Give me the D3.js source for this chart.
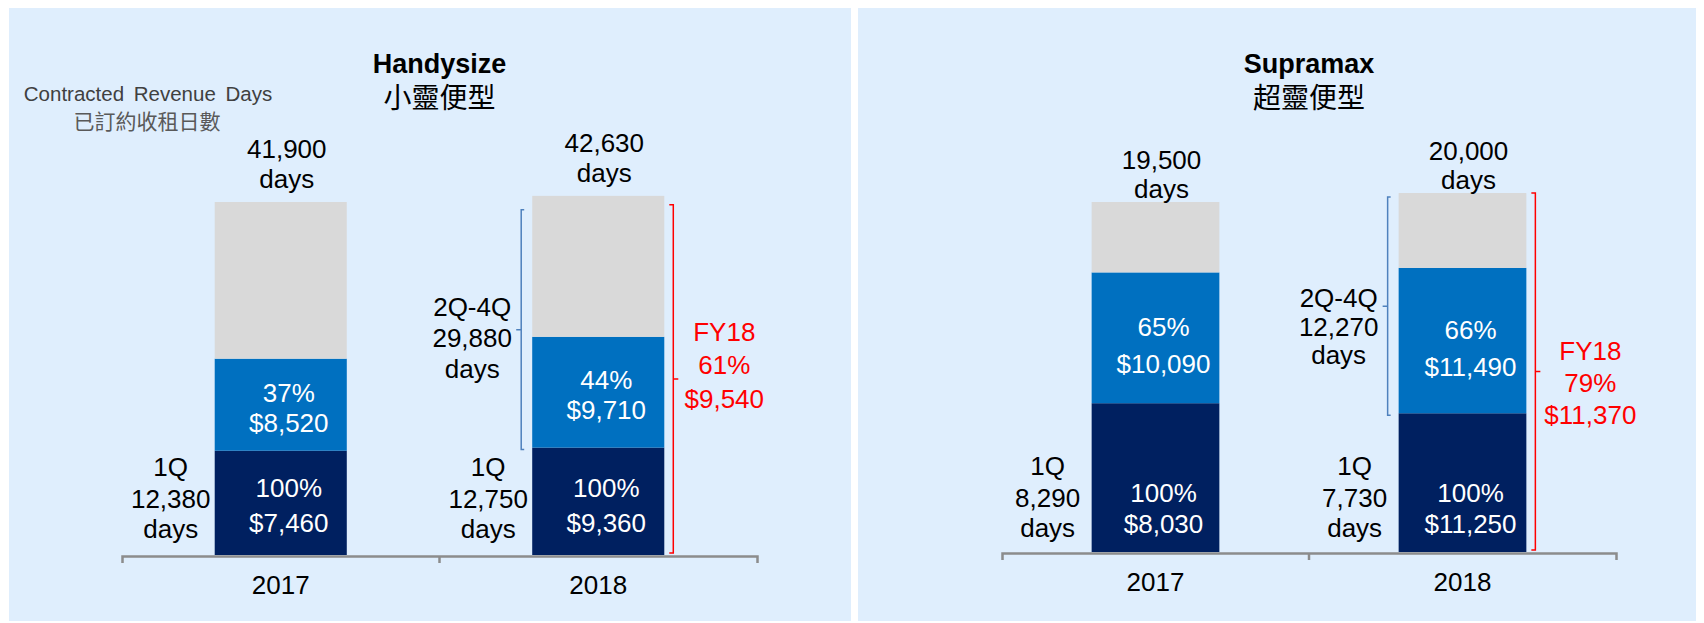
<!DOCTYPE html>
<html>
<head>
<meta charset="utf-8">
<script src="https://cdn.jsdelivr.net/npm/d3@7"></script>
<style>
  body { margin: 0; background: #fff; }
  svg text { font-family: "Liberation Sans", Arial, sans-serif; }
  .zh { font-family: "Noto Sans CJK TC", "Noto Sans CJK SC", sans-serif; }
</style>
</head>
<body>
<svg id="chart" width="1704" height="623"></svg>
<script>
var years = ["2017", "2018"];

// Handysize
var handyQ1Days = [12380, 12750];
var handyTotalDays = [41900, 42630];
var handyCoverPct = [37, 44];
var handyQ1Rate = [7460, 9360];
var handyRestRate = [8520, 9710];

// Supramax
var supraQ1Days = [8290, 7730];
var supraTotalDays = [19500, 20000];
var supraCoverPct = [65, 66];
var supraQ1Rate = [8030, 11250];
var supraRestRate = [10090, 11490];

// FY18 full year cover (Handysize, Supramax)
var fy18Pct = [61, 79];
var fy18Rate = [9540, 11370];

var navy = "#002060", blue = "#0070C0", grey = "#D9D9D9", red = "#FF0000";
var fmt = d3.format(",");

var panels = [
    { title: "Handysize", zh: "小靈便型", q1: handyQ1Days, total: handyTotalDays, pct: handyCoverPct,
      q1Rate: handyQ1Rate, restRate: handyRestRate, fyPct: fy18Pct[0], fyRate: fy18Rate[0],
      box: [9, 8, 842, 613], xr: [122, 757], yr: [555, 202],
      totalDy: [-44, -14], navyDy: [-58, -23], blueDy: [-3, 27], q1Dy: [-79, -47, -17],
      bInset: 14, rInset: 9, restDy: -14, restStep: 31, fyDx: 60, fyDy: -38, fyStep: 33.5 },
    { title: "Supramax", zh: "超靈便型", q1: supraQ1Days, total: supraTotalDays, pct: supraCoverPct,
      q1Rate: supraQ1Rate, restRate: supraRestRate, fyPct: fy18Pct[1], fyRate: fy18Rate[1],
      box: [858, 8, 838, 613], xr: [1002, 1616], yr: [552, 202],
      totalDy: [-33, -4], navyDy: [-50, -19], blueDy: [-2, 35], q1Dy: [-77, -45, -15],
      bInset: 4, rInset: 0, restDy: 1, restStep: 28.5, fyDx: 64, fyDy: -12, fyStep: 32 }
];

var svg = d3.select("#chart");

panels.forEach(function (p, pi) {
    var g = svg.append("g");

    g.append("rect")
        .attr("x", p.box[0]).attr("y", p.box[1])
        .attr("width", p.box[2]).attr("height", p.box[3])
        .attr("fill", "#DFEEFD");

    var x = d3.scaleBand().domain(years).range(p.xr)
        .paddingInner(0.584).paddingOuter(0.292);
    var y = d3.scaleLinear().domain([0, p.total[0]]).range(p.yr);

    var rows = years.map(function (yr, i) {
        var rest = p.total[i] - p.q1[i];
        var covered = rest * p.pct[i] / 100;
        return { year: yr, i: i, q1: p.q1[i], covered: covered, rest: rest, total: p.total[i] };
    });

    var stack = d3.stack().keys(["q1", "covered", "open"])
        .value(function (d, k) { return k === "open" ? d.total - d.q1 - d.covered : d[k]; })(rows);
    var colors = { q1: navy, covered: blue, open: grey };

    g.selectAll("g.layer").data(stack).join("g")
        .attr("class", "layer")
        .attr("fill", function (d) { return colors[d.key]; })
        .selectAll("rect").data(function (d) { return d; }).join("rect")
        .attr("x", function (d) { return x(d.data.year); })
        .attr("width", x.bandwidth())
        .attr("y", function (d) { return y(d[1]); })
        .attr("height", function (d) { return y(d[0]) - y(d[1]); });

    // axis
    var base = y(0) + 1;
    var axis = g.append("g").attr("transform", "translate(0," + base + ")")
        .call(d3.axisBottom(x).tickSizeInner(0).tickSizeOuter(7).tickPadding(20));
    axis.select(".domain").attr("stroke", "#8C8C8C").attr("stroke-width", 2.5);
    axis.selectAll("text").attr("font-size", 26).attr("fill", "#000")
        .attr("font-family", "'Liberation Sans', Arial, sans-serif");
    axis.append("line")
        .attr("x1", p.xr[0] + x.step()).attr("x2", p.xr[0] + x.step())
        .attr("y1", 0).attr("y2", 7)
        .attr("stroke", "#8C8C8C").attr("stroke-width", 2.5);

    // titles
    var mid = (p.xr[0] + p.xr[1]) / 2;
    g.append("text").attr("x", mid).attr("y", 73).attr("text-anchor", "middle")
        .attr("font-size", 27).attr("font-weight", "bold").text(p.title);
    g.append("text").attr("class", "zh").attr("x", mid).attr("y", 108).attr("text-anchor", "middle")
        .attr("font-size", 28).text(p.zh);

    function lines(cx, ys, texts, color) {
        texts.forEach(function (t, k) {
            g.append("text").attr("x", cx).attr("y", ys[k])
                .attr("text-anchor", "middle").attr("font-size", 26)
                .attr("fill", color).text(t);
        });
    }

    rows.forEach(function (d) {
        var bx = x(d.year), bw = x.bandwidth(), cx = bx + bw / 2;
        var yTop = y(d.total), yQ1 = y(d.q1), yCov = y(d.q1 + d.covered);

        lines(cx + 6, [yTop + p.totalDy[0], yTop + p.totalDy[1]], [fmt(d.total), "days"], "#000");
        lines(cx + 8, [y(0) + p.navyDy[0], y(0) + p.navyDy[1]], ["100%", "$" + fmt(p.q1Rate[d.i])], "#fff");
        var bc = (yQ1 + yCov) / 2;
        lines(cx + 8, [bc + p.blueDy[0], bc + p.blueDy[1]], [p.pct[d.i] + "%", "$" + fmt(p.restRate[d.i])], "#fff");
        lines(bx - 44, p.q1Dy.map(function (v) { return y(0) + v; }), ["1Q", fmt(d.q1), "days"], "#000");

        if (d.year === "2018") {
            // 2Q-4Q bracket
            var bxl = bx - 11, t0 = yTop + p.bInset, t1 = yQ1 + 2, bm = (t0 + t1) / 2;
            g.append("path")
                .attr("d", "M" + (bxl + 3) + "," + t0 + "H" + bxl + "V" + t1 + "H" + (bxl + 3)
                    + "M" + bxl + "," + bm + "H" + (bxl - 5))
                .attr("fill", "none").attr("stroke", "#4F81BD").attr("stroke-width", 1.5);
            lines(bx - 60, [0, 1, 2].map(function (k) { return bm + p.restDy + k * p.restStep; }),
                ["2Q-4Q", fmt(d.rest), "days"], "#000");

            // FY18 bracket
            var rx = bx + bw + 9, r0 = yTop + p.rInset, r1 = y(0) - 2, rm = (r0 + r1) / 2;
            g.append("path")
                .attr("d", "M" + (rx - 4) + "," + r0 + "H" + rx + "V" + r1 + "H" + (rx - 4)
                    + "M" + rx + "," + rm + "H" + (rx + 5))
                .attr("fill", "none").attr("stroke", red).attr("stroke-width", 1.5);
            lines(bx + bw + p.fyDx, [0, 1, 2].map(function (k) { return rm + p.fyDy + k * p.fyStep; }),
                ["FY18", p.fyPct + "%", "$" + fmt(p.fyRate)], red);
        }
    });

    if (pi === 0) {
        g.append("text").attr("x", 148).attr("y", 101).attr("text-anchor", "middle")
            .attr("font-size", 20.5).attr("word-spacing", 4).attr("fill", "#404040")
            .text("Contracted Revenue Days");
        g.append("text").attr("class", "zh").attr("x", 147).attr("y", 129).attr("text-anchor", "middle")
            .attr("font-size", 21).attr("fill", "#595959").text("已訂約收租日數");
    }
});
</script>
</body>
</html>
